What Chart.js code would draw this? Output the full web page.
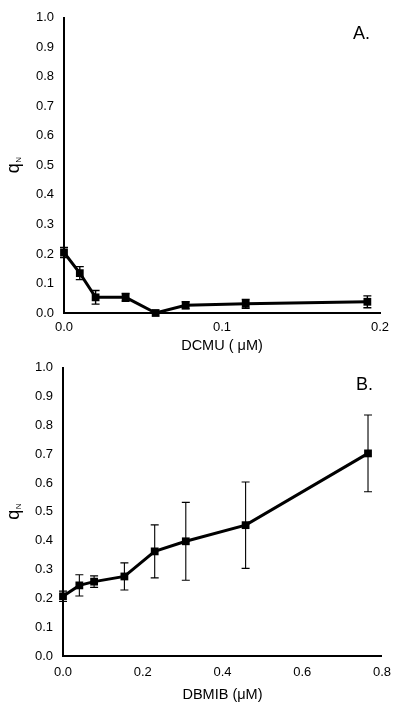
<!DOCTYPE html>
<html>
<head>
<meta charset="utf-8">
<script src="https://cdn.jsdelivr.net/npm/chart.js@4/dist/chart.umd.min.js"></script>
<style>
  html, body { margin: 0; padding: 0; background: #fff; }
  body { width: 400px; height: 713px; position: relative; overflow: hidden; }
  canvas { position: absolute; left: 0; }
</style>
</head>
<body>
<canvas id="chartA" width="400" height="360" style="top:0px"></canvas>
<canvas id="chartB" width="400" height="363" style="top:350px"></canvas>
<script>
// ---- Data ----
const dcmuConc = [0, 0.010, 0.020, 0.039, 0.058, 0.077, 0.115, 0.192];
const qnDcmu   = [0.205, 0.135, 0.053, 0.053, 0.0, 0.026, 0.031, 0.038];
const errDcmu  = [0.017, 0.022, 0.023, 0.013, 0.004, 0.012, 0.015, 0.020];

const dbmibConc = [0, 0.041, 0.078, 0.154, 0.230, 0.308, 0.458, 0.765];
const qnDbmib   = [0.207, 0.245, 0.258, 0.276, 0.363, 0.398, 0.454, 0.703];
const errDbmib  = [0.018, 0.037, 0.020, 0.047, 0.092, 0.135, 0.150, 0.133];

const yTitleMain = 'q';
const yTitleSub = 'N';
const xTitleA = 'DCMU ( μM)';
const xTitleB = 'DBMIB (μM)';
const panelA = 'A.';
const panelB = 'B.';

const FONT = "'Liberation Sans', Arial, Helvetica, sans-serif";

const errorBarPlugin = {
  id: 'errorBars',
  beforeDatasetsDraw(chart, args, opts) {
    const xs = chart.scales.x, ys = chart.scales.y;
    const ds = chart.data.datasets[0];
    const errs = opts.errors || [];
    const ctx = chart.ctx;
    ctx.save();
    ctx.strokeStyle = '#000';
    ctx.lineWidth = opts.lineWidth || 1;
    const cap = opts.cap || 4;
    ds.data.forEach((p, i) => {
      const e = errs[i];
      if (!e) return;
      const px = xs.getPixelForValue(p.x);
      const y1 = ys.getPixelForValue(p.y + e);
      const y2 = ys.getPixelForValue(Math.max(p.y - e, ys.min));
      ctx.beginPath();
      ctx.moveTo(px, y1); ctx.lineTo(px, y2);
      ctx.moveTo(px - cap, y1); ctx.lineTo(px + cap, y1);
      ctx.moveTo(px - cap, y2); ctx.lineTo(px + cap, y2);
      ctx.stroke();
    });
    ctx.restore();
  }
};

const decorPlugin = {
  id: 'decor',
  afterDraw(chart, args, opts) {
    const ctx = chart.ctx;
    const ca = chart.chartArea;
    ctx.save();
    ctx.fillStyle = '#000';
    // panel label
    ctx.font = '18px ' + FONT;
    ctx.textBaseline = 'alphabetic';
    ctx.textAlign = 'left';
    ctx.fillText(opts.panel, ca.right + opts.panelDx, ca.top + opts.panelDy);
    // y axis title with subscript
    const cy = (ca.top + ca.bottom) / 2;
    ctx.translate(opts.yTitleX, cy);
    ctx.rotate(-Math.PI / 2);
    ctx.font = '18px ' + FONT;
    const wq = ctx.measureText(yTitleMain).width;
    ctx.font = '8px ' + FONT;
    const wn = ctx.measureText(yTitleSub).width;
    const start = -(wq + wn) / 2;
    ctx.textBaseline = 'alphabetic';
    ctx.font = '18px ' + FONT;
    ctx.fillText(yTitleMain, start, 3);
    ctx.font = '8px ' + FONT;
    ctx.fillText(yTitleSub, start + wq + 0.5, 5);
    ctx.restore();
  }
};

function makeChart(id, xs, ys, errs, cfg) {
  const pts = xs.map((x, i) => ({ x: x, y: ys[i] }));
  return new Chart(document.getElementById(id), {
    type: 'scatter',
    data: {
      datasets: [{
        data: pts,
        showLine: true,
        borderColor: '#000',
        backgroundColor: '#000',
        borderWidth: 3,
        tension: 0,
        pointStyle: 'rect',
        pointRadius: 5.5,
        pointBorderWidth: 0,
        pointHoverRadius: 5.5,
        clip: false
      }]
    },
    options: {
      responsive: false,
      animation: false,
      devicePixelRatio: 1,
      layout: { padding: { top: cfg.padTop, right: cfg.padRight, left: 0, bottom: 0 } },
      plugins: {
        legend: { display: false },
        tooltip: { enabled: false },
        errorBars: { errors: errs, cap: 4, lineWidth: cfg.errWidth },
        decor: { panel: cfg.panel, panelDx: cfg.panelDx, panelDy: cfg.panelDy, yTitleX: 16 }
      },
      scales: {
        x: {
          type: 'linear',
          min: 0, max: cfg.xMax,
          grid: { display: false, drawTicks: false },
          border: { display: true, color: '#000', width: 2 },
          ticks: {
            stepSize: cfg.xStep,
            color: '#000',
            padding: cfg.xTickPad,
            maxRotation: 0,
            font: { family: FONT, size: 13 },
            callback: v => Number(v).toFixed(1)
          },
          title: {
            display: true, text: cfg.xTitle, color: '#000',
            font: { family: FONT, size: 14.5 },
            padding: { top: 0, bottom: cfg.xTitlePad }
          },
          afterFit: s => { s.height = cfg.xHeight; }
        },
        y: {
          type: 'linear',
          min: 0, max: 1,
          grid: { display: false, drawTicks: false },
          border: { display: true, color: '#000', width: 2 },
          ticks: {
            stepSize: 0.1,
            color: '#000',
            padding: 10,
            font: { family: FONT, size: 13 },
            callback: v => Number(v).toFixed(1)
          },
          afterFit: s => { s.width = cfg.yWidth; }
        }
      }
    },
    plugins: [errorBarPlugin, decorPlugin]
  });
}

makeChart('chartA', dcmuConc, qnDcmu, errDcmu, {
  padTop: 16, padRight: 20, xHeight: 47, yWidth: 64,
  xMax: 0.2, xStep: 0.1, xTickPad: 7, xTitle: xTitleA, xTitlePad: 5,
  panel: panelA, panelDx: -27, panelDy: 21, errWidth: 1.4
});
makeChart('chartB', dbmibConc, qnDbmib, errDbmib, {
  padTop: 15, padRight: 18, xHeight: 57, yWidth: 63,
  xMax: 0.8, xStep: 0.2, xTickPad: 9, xTitle: xTitleB, xTitlePad: 9,
  panel: panelB, panelDx: -26, panelDy: 22, errWidth: 1.1
});
</script>
</body>
</html>
